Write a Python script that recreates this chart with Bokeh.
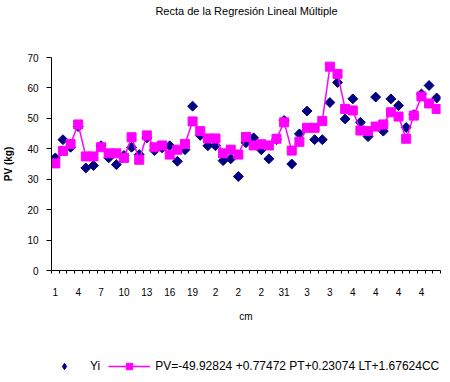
import math
from bokeh.plotting import figure
from bokeh.layouts import column
from bokeh.models import FixedTicker, Legend, LegendItem, Range1d, ColumnDataSource, Label
from bokeh.embed import file_html
from bokeh.resources import INLINE

# ---- data ----
yi = [37.0, 43.0, 40.5, 47.3, 33.7, 34.5, 41.0, 37.0, 34.8, 37.8,
      40.5, 38.1, 43.6, 39.4, 40.3, 41.0, 35.9, 39.7, 54.0, 44.4,
      41.0, 41.0, 36.1, 36.7, 30.9, 42.0, 43.6, 39.7, 36.7, 43.0,
      49.3, 35.0, 44.9, 52.4, 43.0, 43.0, 55.2, 61.8, 49.8, 56.4,
      48.7, 44.0, 57.0, 45.8, 56.4, 54.2, 47.0, 51.2, 58.0, 60.8,
      56.7]
pv = [35.2, 39.3, 41.6, 48.0, 37.5, 37.5, 40.5, 38.5, 38.5, 37.0,
      43.8, 36.4, 44.4, 40.5, 41.1, 38.1, 39.7, 41.6, 49.0, 45.8,
      43.4, 43.4, 38.5, 39.7, 38.1, 43.9, 41.1, 41.5, 41.1, 43.3,
      48.7, 39.4, 42.3, 46.9, 46.9, 49.1, 67.0, 64.6, 53.1, 52.6,
      46.0, 45.8, 47.3, 48.0, 52.0, 50.6, 43.3, 50.9, 57.2, 54.9,
      53.1]
tick_labels = ["1", "4", "7", "10", "13", "16", "19", "2", "2", "2",
               "31", "3", "3", "4", "4", "4", "4"]
y_ticks = [0, 10, 20, 30, 40, 50, 60, 70]
legend_yi = "Yi"
legend_pv = "PV=-49.92824 +0.77472 PT+0.23074 LT+1.67624CC"
title_text = "Recta de la Regresión Lineal Múltiple"

n = len(yi)
idx = list(range(n))
src = ColumnDataSource(dict(x=idx, yi=yi, pv=pv))

FONT = "Liberation Sans"
NAVY = "#000080"
MAGENTA = "#FF00FF"
W = 442
BL, BR = 50, 2


def strip(height):
    f = figure(width=W, height=height, output_backend="svg", toolbar_location=None,
               x_axis_type=None, y_axis_type=None,
               x_range=Range1d(0, 1), y_range=Range1d(0, 1),
               min_border_left=BL, min_border_right=BR,
               min_border_top=0, min_border_bottom=0)
    f.xgrid.visible = False
    f.ygrid.visible = False
    f.outline_line_color = None
    f.background_fill_color = "white"
    f.border_fill_color = "white"
    return f


# ---------------- title strip ----------------
tf = strip(20)
tf.add_layout(Label(x=(W - BL - BR) / 2, y=10, x_units="screen", y_units="screen",
                    text=title_text, text_align="center", text_baseline="middle",
                    text_font=FONT, text_font_size="11px", text_color="#000000"))

# ---------------- main chart ----------------
p = figure(width=W, height=310, output_backend="svg", toolbar_location=None,
           x_range=Range1d(-0.5, n - 0.5), y_range=Range1d(0, 70),
           min_border_left=BL, min_border_right=BR, min_border_top=37,
           min_border_bottom=60)
p.xgrid.visible = False
p.ygrid.visible = False
p.outline_line_color = None
p.background_fill_color = "white"
p.border_fill_color = "white"

# y axis
ya = p.yaxis[0]
ya.ticker = FixedTicker(ticks=y_ticks)
ya.major_tick_out = 5
ya.major_tick_in = 0
ya.minor_tick_out = 0
ya.minor_tick_in = 0
ya.major_label_standoff = 8
ya.major_label_text_font = FONT
ya.major_label_text_font_size = "10px"
ya.major_label_text_color = "#000000"
ya.axis_line_color = "#000000"
ya.major_tick_line_color = "#000000"
ya.axis_label = "PV (kg)"
ya.axis_label_text_font = FONT
ya.axis_label_text_font_size = "10px"
ya.axis_label_text_font_style = "bold"
ya.axis_label_text_color = "#000000"
ya.axis_label_standoff = 10

# x axis
label_pos = list(range(0, n, 3))
xa = p.xaxis[0]
xa.ticker = FixedTicker(ticks=label_pos, minor_ticks=[i - 0.5 for i in range(n + 1)])
xa.major_label_overrides = {pos: lab for pos, lab in zip(label_pos, tick_labels)}
xa.major_tick_out = 0
xa.major_tick_in = 0
xa.minor_tick_out = 3
xa.minor_tick_in = 0
xa.minor_tick_line_color = "#000000"
xa.axis_line_color = "#000000"
xa.major_label_standoff = 14
xa.major_label_text_font = FONT
xa.major_label_text_font_size = "10px"
xa.major_label_text_color = "#000000"
xa.axis_label = "cm"
xa.axis_label_text_font = FONT
xa.axis_label_text_font_size = "10px"
xa.axis_label_text_font_style = "normal"
xa.axis_label_text_color = "#000000"
xa.axis_label_standoff = 12

# series
p.scatter("x", "yi", source=src, marker="square", size=7, angle=math.pi / 4,
          fill_color=NAVY, line_color=NAVY)
p.line("x", "pv", source=src, line_color=MAGENTA, line_width=1.5)
p.scatter("x", "pv", source=src, marker="square", size=9,
          fill_color=MAGENTA, line_color=MAGENTA)

# ---------------- legend strip ----------------
lg = strip(44)
# same series, drawn outside this strip's visible range: only their legend swatches show
l_yi = lg.scatter("x", "yi", source=src, marker="diamond",
                  fill_color=NAVY, line_color=NAVY)
l_line = lg.line("x", "pv", source=src, line_color=MAGENTA, line_width=1.5)
l_sq = lg.scatter("x", "pv", source=src, marker="square",
                  fill_color=MAGENTA, line_color=MAGENTA)

legend = Legend(items=[LegendItem(label=legend_yi, renderers=[l_yi]),
                       LegendItem(label=legend_pv, renderers=[l_line, l_sq])],
                location=(-8, 0), orientation="horizontal",
                glyph_width=42, glyph_height=16, label_height=16, label_width=0,
                label_standoff=5, spacing=8,
                padding=0, margin=0, border_line_color=None,
                background_fill_alpha=0,
                label_text_font=FONT, label_text_font_size="12px",
                label_text_color="#000000")
lg.add_layout(legend, "center")

layout = column(tf, p, lg, spacing=0)
open("out.html", "w").write(file_html(layout, INLINE))
